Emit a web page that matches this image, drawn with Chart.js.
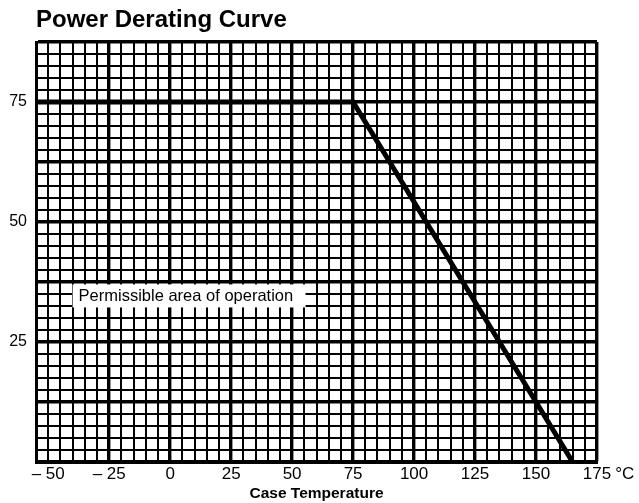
<!DOCTYPE html>
<html>
<head>
<meta charset="utf-8">
<script src="https://cdn.jsdelivr.net/npm/chart.js@4.4.1/dist/chart.umd.min.js"></script>
<style>
  html, body { margin: 0; padding: 0; background: #fff; }
  #wrap { width: 639px; height: 503px; }
</style>
</head>
<body>
<div id="wrap"><canvas id="c" width="639" height="503"></canvas></div>
<script>
// ---- data ----
const caseTemperature = [-55, 75, 165];   // °C
const powerRating     = [75, 75, 0];      // W (derating curve)
const xTickValues = [-50, -25, 0, 25, 50, 75, 100, 125, 150, 175];
const xTickLabels = ["\u2013 50", "\u2013 25", "0", "25", "50", "75", "100", "125", "150", "175"];
const yTickValues = [25, 50, 75];
const yTickLabels = ["25", "50", "75"];
const chartTitle = "Power Derating Curve";
const xAxisTitle = "Case Temperature";
const xUnit = "\u00B0C";
const noteText = "Permissible area of operation";

const FONT = "'Liberation Sans', Arial, Helvetica, sans-serif";
const TICK_SIZE = 17;

const bgPlugin = {
  id: 'bg',
  beforeDraw(chart) {
    const ctx = chart.ctx;
    ctx.save();
    ctx.fillStyle = '#fff';
    ctx.fillRect(0, 0, chart.width, chart.height);
    ctx.restore();
  }
};

const notePlugin = {
  id: 'note',
  beforeDatasetsDraw(chart) {
    const {ctx, scales: {x, y}} = chart;
    const left = x.getPixelForValue(-40);
    const right = x.getPixelForValue(55.5);
    const top = y.getPixelForValue(37.0);
    const bottom = y.getPixelForValue(32.2);
    ctx.save();
    ctx.fillStyle = '#fff';
    ctx.fillRect(left, top, right - left, bottom - top);
    ctx.fillStyle = '#000';
    ctx.font = "16.5px " + FONT;
    ctx.textBaseline = 'middle';
    ctx.textAlign = 'left';
    ctx.fillText(noteText, left + 6, (top + bottom) / 2 + 1);
    ctx.restore();
  },
  afterDraw(chart) {
    const {ctx, scales: {x}} = chart;
    ctx.save();
    ctx.font = TICK_SIZE + "px " + FONT;
    const w = ctx.measureText(xTickLabels[xTickLabels.length - 1]).width;
    const px = x.getPixelForValue(xTickValues[xTickValues.length - 1]) + w / 2 + 4;
    const lbl = x._labelItems && x._labelItems[x._labelItems.length - 1];
    ctx.fillStyle = '#000';
    if (lbl) {
      ctx.textBaseline = lbl.options.textBaseline;
      ctx.textAlign = 'left';
      ctx.fillText(xUnit, px, lbl.options.translation[1] + (lbl.textOffset || 0));
    } else {
      ctx.textBaseline = 'top';
      ctx.textAlign = 'left';
      ctx.fillText(xUnit, px, x.top + 3);
    }
    ctx.restore();
  }
};

new Chart(document.getElementById('c'), {
  type: 'line',
  data: {
    datasets: [{
      data: caseTemperature.map((t, i) => ({x: t, y: powerRating[i]})),
      borderColor: '#000',
      borderWidth: 5,
      pointRadius: 0,
      tension: 0,
      fill: false,
      borderJoinStyle: 'miter'
    }]
  },
  options: {
    responsive: false,
    animation: false,
    layout: { padding: { left: 0, right: 42, top: 0, bottom: 0 } },
    plugins: {
      legend: { display: false },
      tooltip: { enabled: false },
      title: {
        display: true,
        text: chartTitle,
        align: 'start',
        fullSize: false,
        color: '#000',
        font: { family: FONT, size: 24, weight: 'bold' },
        padding: { top: 6, bottom: 7.2 }
      }
    },
    scales: {
      x: {
        type: 'linear',
        min: -55,
        max: 175,
        afterFit(s) { s.height = 41; },
        border: { display: true, color: '#000', width: 3 },
        grid: {
          drawTicks: false,
          color: '#000',
          lineWidth: (c) => (c.tick && (c.tick.value % 25) === 0 && c.tick.value > -50) ? 3.4 : 2
        },
        ticks: {
          stepSize: 5,
          autoSkip: false,
          maxRotation: 0,
          padding: 2,
          color: '#000',
          font: { family: FONT, size: TICK_SIZE },
          callback: (v) => { const i = xTickValues.indexOf(v); return i >= 0 ? xTickLabels[i] : ''; }
        },
        title: {
          display: true,
          text: xAxisTitle,
          color: '#000',
          font: { family: FONT, size: 15.5, weight: 'bold' },
          padding: { top: 0, bottom: 0 }
        }
      },
      y: {
        type: 'linear',
        min: 0,
        max: 87.5,
        afterFit(s) { s.width = 36; },
        border: { display: true, color: '#000', width: 3 },
        grid: {
          drawTicks: false,
          color: '#000',
          lineWidth: (c) => (c.tick && (c.tick.value % 12.5) === 0) ? 3.4 : 2
        },
        ticks: {
          stepSize: 2.5,
          autoSkip: false,
          padding: 9,
          color: '#000',
          font: { family: FONT, size: 16 },
          callback: (v) => { const i = yTickValues.indexOf(v); return i >= 0 ? yTickLabels[i] : ''; }
        }
      }
    }
  },
  plugins: [bgPlugin, notePlugin]
});
</script>
</body>
</html>
